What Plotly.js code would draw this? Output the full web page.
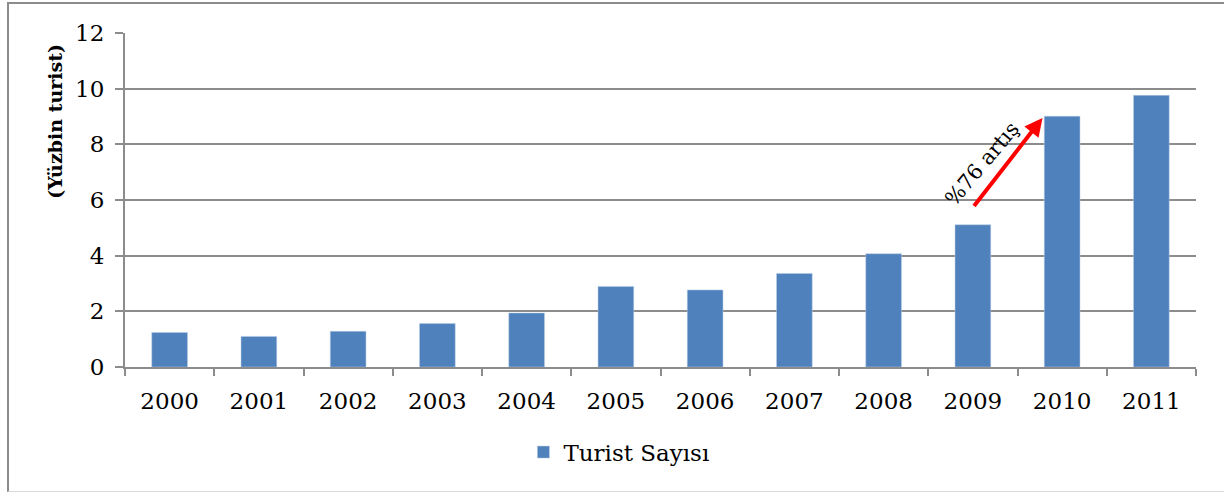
<!DOCTYPE html>
<html>
<head>
<meta charset="utf-8">
<script src="https://cdn.plot.ly/plotly-3.0.1.min.js"></script>
<style>
html,body{margin:0;padding:0;background:#fff;}
#wrap{position:relative;width:1224px;height:492px;overflow:hidden;}
#chart{position:absolute;left:0;top:0;width:1224px;height:492px;}
#frame{position:absolute;left:7px;top:2px;width:1240px;height:487px;border-left:2px solid #8c8c8c;border-top:2px solid #8c8c8c;border-bottom:1px solid #d9d9d9;pointer-events:none;}
</style>
</head>
<body>
<div id="wrap"><div id="chart"></div><div id="frame"></div></div>
<script>
const years = ['2000','2001','2002','2003','2004','2005','2006','2007','2008','2009','2010','2011'];
const touristCounts = [1.24, 1.10, 1.28, 1.56, 1.94, 2.89, 2.77, 3.36, 4.07, 5.11, 9.01, 9.76];
const seriesName = 'Turist Sayısı';
const yAxisTitle = '(Yüzbin turist)';
const annotationText = '%76 artış';
const yTicks = [0, 2, 4, 6, 8, 10, 12];

const font = 'Georgia, "DejaVu Serif", serif';

const data = [{
  type: 'bar',
  x: years,
  y: touristCounts,
  name: seriesName,
  marker: {color: '#4f81bd', line: {color: '#b9cde5', width: 0.5}},
  showlegend: true
}];

const layout = {
  width: 1224, height: 492,
  margin: {l: 125, r: 28, t: 33, b: 125},
  paper_bgcolor: 'rgba(0,0,0,0)',
  plot_bgcolor: '#fff',
  bargap: 0.6,
  font: {family: font, color: '#000', size: 23},
  xaxis: {
    type: 'category',
    tickson: 'boundaries',
    ticks: 'outside', ticklen: 7, tickcolor: '#8c8c8c', tickwidth: 2,
    showline: true, linecolor: '#8c8c8c', linewidth: 2,
    showgrid: false,
    tickfont: {family: font, size: 23, color: '#000'},
    ticklabelstandoff: 12,
    fixedrange: true
  },
  yaxis: {
    range: [0, 12],
    tickvals: yTicks,
    ticks: 'outside', ticklen: 8, tickcolor: '#8c8c8c', tickwidth: 2,
    showline: true, linecolor: '#8c8c8c', linewidth: 2,
    showgrid: true, gridcolor: '#8c8c8c', gridwidth: 2,
    zeroline: false,
    tickfont: {family: font, size: 23, color: '#000'},
    ticklabelstandoff: 6,
    fixedrange: true
  },
  legend: {
    orientation: 'h',
    x: 0.372, xanchor: 'left',
    y: -0.255, yanchor: 'middle',
    font: {family: font, size: 23, color: '#000'},
    itemwidth: 30
  },
  annotations: [
    {
      xref: 'paper', yref: 'paper',
      x: -0.066, y: 0.735, xanchor: 'center', yanchor: 'middle',
      text: '<b>' + yAxisTitle + '</b>', showarrow: false, textangle: -90,
      font: {family: font, size: 19, color: '#000'}
    },
    {
      xref: 'x', yref: 'y', axref: 'x', ayref: 'y',
      x: 9.78, y: 8.95,
      ax: 9.0, ay: 5.73,
      showarrow: true, arrowhead: 2, arrowsize: 0.9, arrowwidth: 4, arrowcolor: '#ff0000',
      text: ''
    },
    {
      xref: 'x', yref: 'y',
      x: 9.1, y: 7.3,
      text: annotationText, showarrow: false,
      textangle: -50,
      font: {family: font, size: 21, color: '#000'}
    }
  ]
};

Plotly.newPlot('chart', data, layout, {displayModeBar: false, staticPlot: true});
</script>
</body>
</html>
